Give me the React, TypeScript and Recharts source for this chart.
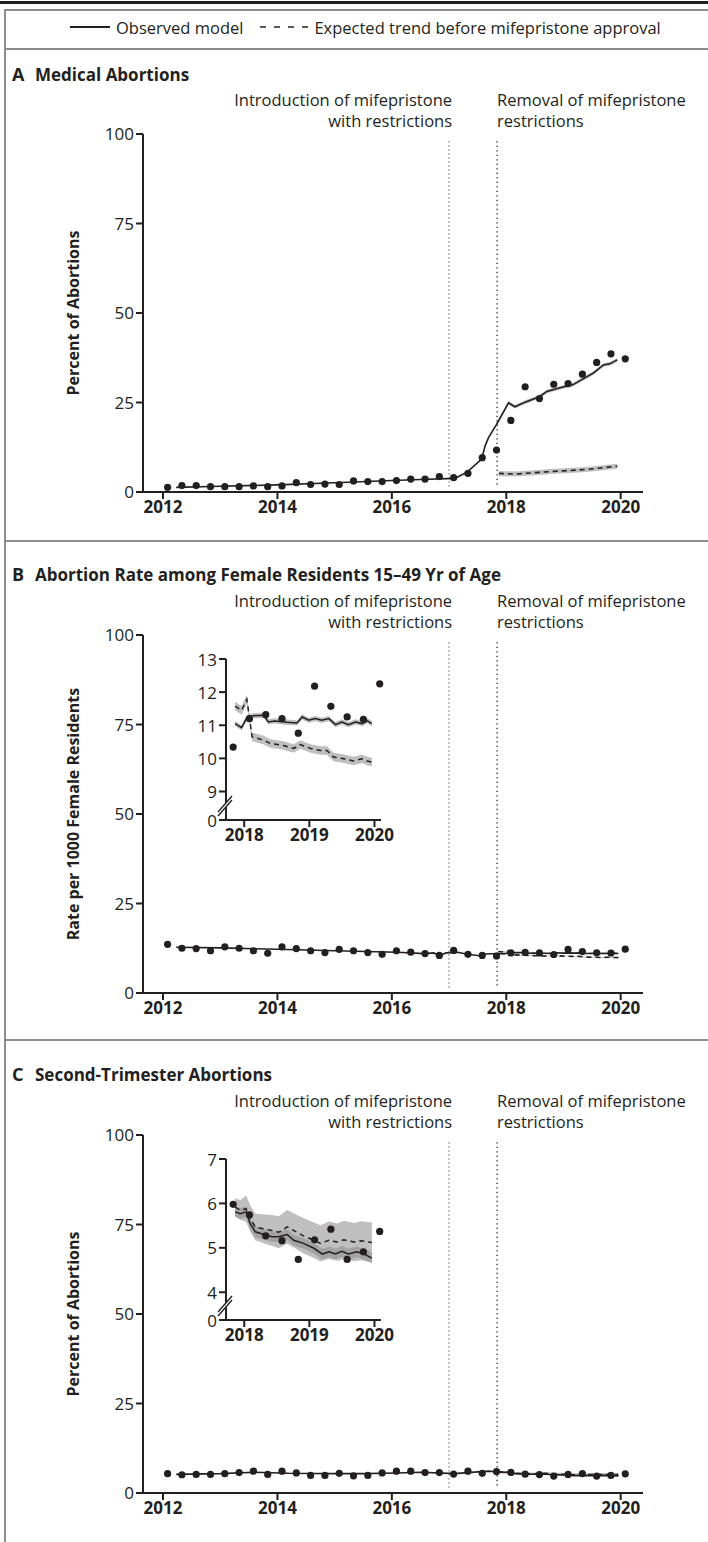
import React from "react";
import {
  ComposedChart,
  Line,
  Area,
  Scatter,
  XAxis,
  YAxis,
  ReferenceLine,
} from "recharts";

const INK = "#231f20";
const FRAME = "#8c8c8c";
const BAND = "#8a8a8a";
const FONT = "'Open Sans', 'Noto Sans', sans-serif";

// quarter midpoints (Feb, May, Aug, Nov) of the observed series
const quarterYears = [
  2012.08, 2012.33, 2012.58, 2012.83, 2013.08, 2013.33, 2013.58, 2013.83,
  2014.08, 2014.33, 2014.58, 2014.83, 2015.08, 2015.33, 2015.58, 2015.83,
  2016.08, 2016.33, 2016.58, 2016.83, 2017.08, 2017.33, 2017.58, 2017.83,
  2018.08, 2018.33, 2018.58, 2018.83, 2019.08, 2019.33, 2019.58, 2019.83,
  2020.08,
];

const yearTicks = [2012, 2014, 2016, 2018, 2020];
const insetYearTicks = [2018, 2019, 2020];
const mainYTicks = [0, 25, 50, 75, 100];
const introYear = 2017.0;
const removalYear = 2017.84;

// A: medical abortions, % of abortions
const medicalPoints = [
  1.3, 1.8, 1.8, 1.5, 1.5, 1.5, 1.7, 1.5, 1.7, 2.6, 2.1, 2.2, 2.1, 3.1, 2.9,
  2.9, 3.2, 3.6, 3.6, 4.3, 4.0, 5.2, 9.6, 11.7, 20.0, 29.4, 26.1, 30.1, 30.3,
  32.9, 36.2, 38.6, 37.2,
];
const medicalObserved: [number, number][] = [
  [2012.23, 1.3], [2013, 1.6], [2014, 2.0], [2015, 2.6], [2016, 3.2],
  [2016.5, 3.5], [2017.1, 3.8], [2017.31, 5.5], [2017.57, 9.2],
  [2017.63, 12.9], [2017.69, 15.2], [2017.83, 18.9], [2018.04, 24.9],
  [2018.15, 23.8], [2018.33, 25.1], [2018.58, 26.6], [2018.71, 28.1],
  [2018.94, 29.1], [2019.17, 30.0], [2019.32, 31.4], [2019.52, 33.2],
  [2019.7, 35.5], [2019.81, 35.8], [2019.94, 36.9],
];
const medicalExpected: [number, number][] = [
  [2017.87, 5.2], [2018.15, 5.0], [2018.5, 5.4], [2018.77, 5.7],
  [2019.1, 6.0], [2019.4, 6.3], [2019.7, 6.8], [2019.94, 7.2],
];
const medicalObservedCI = 0.5;
const medicalExpectedCI = 0.7;

// B: abortion rate per 1000 female residents 15-49 yr
const ratePoints = [
  13.6, 12.5, 12.4, 11.8, 12.9, 12.5, 11.8, 11.1, 12.9, 12.4, 11.8, 11.3,
  12.2, 11.8, 11.3, 10.8, 11.8, 11.4, 11.0, 10.5, 11.9, 10.8, 10.5, 10.34,
  11.2, 11.32, 11.2, 10.76, 12.18, 11.57, 11.25, 11.18, 12.25,
];
const rateObservedEarly: [number, number][] = [
  [2012.23, 12.8], [2013, 12.6], [2014, 12.2], [2015, 11.8], [2016.1, 11.4],
  [2016.57, 11.0], [2016.73, 11.2], [2016.83, 10.5], [2016.95, 11.2],
  [2017.15, 11.4], [2017.3, 10.9], [2017.53, 10.4], [2017.65, 10.9],
];
const rateObservedLate: [number, number][] = [
  [2017.86, 11.05], [2017.96, 10.93], [2018.04, 11.23], [2018.14, 11.29],
  [2018.3, 11.3], [2018.37, 11.1], [2018.47, 11.13], [2018.66, 11.09],
  [2018.81, 11.07], [2018.89, 11.25], [2018.99, 11.15], [2019.09, 11.2],
  [2019.19, 11.15], [2019.3, 11.2], [2019.4, 11.02], [2019.5, 11.1],
  [2019.6, 11.02], [2019.71, 11.1], [2019.81, 11.05], [2019.89, 11.13],
  [2019.96, 11.05],
];
const rateExpected: [number, number][] = [
  [2017.86, 11.58], [2017.96, 11.45], [2018.04, 11.78], [2018.12, 10.65],
  [2018.3, 10.55], [2018.4, 10.45], [2018.6, 10.39], [2018.76, 10.3],
  [2018.86, 10.42], [2019.02, 10.3], [2019.17, 10.24], [2019.27, 10.24],
  [2019.37, 10.04], [2019.53, 9.99], [2019.68, 9.92], [2019.81, 9.99],
  [2019.89, 9.92], [2019.96, 9.89],
];
const rateObservedCI = 0.08;
const rateExpectedCI = 0.13;
const rateInsetFloor = 8.14;
const rateInsetTicks = [rateInsetFloor, 9, 10, 11, 12, 13];

// C: second-trimester abortions, % of abortions
const secondPoints = [
  5.4, 5.1, 5.2, 5.2, 5.4, 5.7, 6.1, 5.2, 6.1, 5.6, 4.9, 4.9, 5.5, 4.8, 4.9,
  5.6, 6.1, 6.1, 5.7, 5.7, 5.3, 6.1, 5.5, 5.98, 5.74, 5.27, 5.16, 4.74, 5.18,
  5.42, 4.74, 4.91, 5.37,
];
const secondObservedEarly: [number, number][] = [
  [2012.23, 5.2], [2013, 5.4], [2013.6, 5.8], [2014.2, 5.5], [2015, 5.4],
  [2015.5, 5.4], [2016.1, 5.6], [2016.5, 5.8], [2017.1, 5.4], [2017.5, 5.9],
  [2017.7, 6.1],
];
const secondObservedLate: [number, number][] = [
  [2017.86, 5.81], [2017.94, 5.77], [2018.03, 5.81], [2018.09, 5.55],
  [2018.17, 5.36], [2018.3, 5.3], [2018.43, 5.25], [2018.53, 5.25],
  [2018.66, 5.3], [2018.76, 5.17], [2018.91, 5.1], [2019.07, 4.99],
  [2019.2, 4.86], [2019.3, 4.91], [2019.4, 4.86], [2019.5, 4.92],
  [2019.6, 4.86], [2019.73, 4.91], [2019.84, 4.86], [2019.96, 4.77],
];
const secondExpected: [number, number][] = [
  [2017.86, 5.92], [2017.94, 5.85], [2018.03, 5.88], [2018.09, 5.66],
  [2018.17, 5.47], [2018.32, 5.42], [2018.43, 5.39], [2018.53, 5.35],
  [2018.66, 5.47], [2018.81, 5.35], [2018.91, 5.27], [2019.07, 5.17],
  [2019.17, 5.1], [2019.3, 5.17], [2019.43, 5.13], [2019.53, 5.18],
  [2019.69, 5.13], [2019.79, 5.16], [2019.96, 5.12],
];
const secondObservedCI = 0.12;
const secondExpectedCI = [
  0.2, 0.22, 0.3, 0.3, 0.3, 0.33, 0.35, 0.36, 0.38, 0.39, 0.4, 0.4, 0.41,
  0.42, 0.42, 0.43, 0.43, 0.44, 0.45,
];
const secondInsetFloor = 3.375;
const secondInsetTicks = [secondInsetFloor, 4, 5, 6, 7];

type Pair = [number, number];

const toRows = (pts: Pair[]) => pts.map(([x, y]) => ({ x, y }));
const toBand = (pts: Pair[], ci: number | number[]) =>
  pts.map(([x, y], i) => {
    const w = Array.isArray(ci) ? ci[i] : ci;
    return { x, range: [y - w, y + w] };
  });
const toPoints = (vals: number[]) =>
  quarterYears.map((x, i) => ({ x, y: vals[i] }));

const Dot = (p: any) =>
  p.cx == null || p.cy == null ? null : (
    <circle cx={p.cx} cy={p.cy} r={3.6} fill={INK} />
  );

const Annotation = (props: any) => {
  const vb = props.viewBox || {};
  const x = vb.x ?? 0;
  const y = vb.y ?? 0;
  const end = props.anchor === "end";
  const tx = end ? x + 3 : x;
  return (
    <g>
      {props.lines.map((t: string, i: number) => (
        <text
          key={t}
          x={tx}
          y={y - 35 + i * 21}
          textAnchor={end ? "end" : "start"}
          fontFamily={FONT}
          fontSize={16.5}
          fill={INK}
        >
          {t}
        </text>
      ))}
    </g>
  );
};

const YTitle = (props: any) => {
  const vb = props.viewBox || {};
  const cx = (vb.x ?? 0) + 10;
  const cy = (vb.y ?? 0) + (vb.height ?? 0) / 2;
  return (
    <text
      x={cx}
      y={cy}
      transform={`rotate(-90 ${cx} ${cy})`}
      textAnchor="middle"
      dominantBaseline="central"
      fontFamily={FONT}
      fontSize={16}
      fontWeight={700}
      fill={INK}
    >
      {props.text}
    </text>
  );
};

const InsetTick = (props: any) => {
  const { x, y, payload, floor } = props;
  const isFloor = payload.value === floor;
  const ax = x + 9;
  return (
    <g>
      <text
        x={x}
        y={y}
        textAnchor="end"
        dominantBaseline="central"
        fontFamily={FONT}
        fontSize={17}
        fill={INK}
      >
        {isFloor ? "0" : payload.value}
      </text>
      {isFloor && (
        <g>
          <polygon
            points={`${ax - 7},${y - 9} ${ax + 6},${y - 23} ${ax + 6},${y - 19} ${ax - 7},${y - 5}`}
            fill="#fff"
          />
          <line x1={ax - 8} y1={y - 8} x2={ax + 6} y2={y - 24} stroke={INK} strokeWidth={1.3} />
          <line x1={ax - 8} y1={y - 4} x2={ax + 6} y2={y - 20} stroke={INK} strokeWidth={1.3} />
        </g>
      )}
    </g>
  );
};

const axisStroke = { stroke: INK, strokeWidth: 2 };
const tickFont = { fontFamily: FONT, fontSize: 17, fill: INK };
const boldTick = { fontFamily: FONT, fontSize: 17, fontWeight: 700, fill: INK };

interface PanelProps {
  top: number;
  yTitle: string;
  points: number[];
  observed: Pair[];
  expected: Pair[];
  observedBand: Pair[];
  observedCI: number;
  expectedCI: number | number[];
}

function MainPanel(p: PanelProps) {
  return (
    <div style={{ position: "absolute", left: 0, top: p.top }}>
      <ComposedChart
        width={708}
        height={438}
        margin={{ top: 45, right: 65, bottom: 5, left: 63 }}
      >
        <XAxis
          type="number"
          dataKey="x"
          domain={[2011.65, 2020.39]}
          ticks={yearTicks}
          tick={boldTick}
          tickSize={7}
          axisLine={axisStroke}
          tickLine={axisStroke}
          height={30}
        />
        <YAxis
          type="number"
          domain={[0, 100]}
          ticks={mainYTicks}
          tick={tickFont}
          tickSize={7}
          axisLine={axisStroke}
          tickLine={axisStroke}
          width={80}
          label={<YTitle text={p.yTitle} />}
        />
        <ReferenceLine
          segment={[{ x: introYear, y: 98 }, { x: introYear, y: 1.5 }]}
          stroke="#6d6d6d"
          strokeDasharray="1.3 2.7"
          strokeWidth={1.3}
          label={<Annotation anchor="end" lines={["Introduction of mifepristone", "with restrictions"]} />}
        />
        <ReferenceLine
          segment={[{ x: removalYear, y: 98 }, { x: removalYear, y: 1.5 }]}
          stroke={INK}
          strokeDasharray="1.3 3.2"
          strokeWidth={1.3}
          label={<Annotation anchor="start" lines={["Removal of mifepristone", "restrictions"]} />}
        />
        <Area
          data={toBand(p.expected, p.expectedCI)}
          dataKey="range"
          type="linear"
          stroke="none"
          fill={BAND}
          fillOpacity={0.55}
          isAnimationActive={false}
        />
        <Area
          data={toBand(p.observedBand, p.observedCI)}
          dataKey="range"
          type="linear"
          stroke="none"
          fill={BAND}
          fillOpacity={0.55}
          isAnimationActive={false}
        />
        <Line
          data={toRows(p.expected)}
          dataKey="y"
          type="linear"
          stroke={INK}
          strokeWidth={1.6}
          strokeDasharray="5 4"
          dot={false}
          isAnimationActive={false}
        />
        <Line
          data={toRows(p.observed)}
          dataKey="y"
          type="linear"
          stroke={INK}
          strokeWidth={1.6}
          dot={false}
          isAnimationActive={false}
        />
        <Scatter
          data={toPoints(p.points)}
          dataKey="y"
          shape={Dot}
          isAnimationActive={false}
        />
      </ComposedChart>
    </div>
  );
}

interface InsetProps {
  top: number;
  floor: number;
  ticks: number[];
  points: number[];
  observed: Pair[];
  expected: Pair[];
  observedCI: number;
  expectedCI: number | number[];
}

function Inset(p: InsetProps) {
  const pts = toPoints(p.points).filter((d) => d.x > 2017.75);
  return (
    <div style={{ position: "absolute", left: 140, top: p.top }}>
      <ComposedChart
        width={275}
        height={207}
        margin={{ top: 12, right: 34, bottom: 4, left: 0 }}
      >
        <XAxis
          type="number"
          dataKey="x"
          domain={[2017.72, 2020.1]}
          ticks={insetYearTicks}
          tick={boldTick}
          tickSize={7}
          axisLine={axisStroke}
          tickLine={axisStroke}
          height={30}
        />
        <YAxis
          type="number"
          domain={[p.floor, p.ticks[p.ticks.length - 1]]}
          ticks={p.ticks}
          tick={<InsetTick floor={p.floor} />}
          tickSize={7}
          axisLine={axisStroke}
          tickLine={axisStroke}
          width={86}
        />
        <Area
          data={toBand(p.expected, p.expectedCI)}
          dataKey="range"
          type="linear"
          stroke="none"
          fill={BAND}
          fillOpacity={0.55}
          isAnimationActive={false}
        />
        <Area
          data={toBand(p.observed, p.observedCI)}
          dataKey="range"
          type="linear"
          stroke="none"
          fill={BAND}
          fillOpacity={0.55}
          isAnimationActive={false}
        />
        <Line
          data={toRows(p.expected)}
          dataKey="y"
          type="linear"
          stroke={INK}
          strokeWidth={1.5}
          strokeDasharray="5 4"
          dot={false}
          isAnimationActive={false}
        />
        <Line
          data={toRows(p.observed)}
          dataKey="y"
          type="linear"
          stroke={INK}
          strokeWidth={1.5}
          dot={false}
          isAnimationActive={false}
        />
        <Scatter data={pts} dataKey="y" shape={Dot} isAnimationActive={false} />
      </ComposedChart>
    </div>
  );
}

const titleStyle = (top: number): React.CSSProperties => ({
  position: "absolute",
  left: 12,
  top,
  fontFamily: FONT,
  fontSize: 17,
  fontWeight: 700,
  color: INK,
  whiteSpace: "nowrap",
});

function PanelTitle({ top, letter, text }: { top: number; letter: string; text: string }) {
  return (
    <div style={titleStyle(top)}>
      <span style={{ fontSize: 18, display: "inline-block", width: 23 }}>{letter}</span>
      {text}
    </div>
  );
}

const hRule = (top: number): React.CSSProperties => ({
  position: "absolute",
  left: 4,
  top,
  width: 704,
  height: 2,
  background: FRAME,
});

export default function App() {
  return (
    <div
      style={{
        position: "absolute",
        left: 0,
        top: 0,
        width: 708,
        height: 1542,
        background: "#fff",
        fontFamily: FONT,
        color: INK,
        overflow: "hidden",
      }}
    >
      <div style={{ position: "absolute", left: 0, top: 1, width: 708, height: 3, background: INK }} />
      <div style={{ position: "absolute", left: 4, top: 9, width: 704, height: 1.5, background: FRAME }} />
      <div style={{ position: "absolute", left: 4, top: 9, width: 1.5, height: 1533, background: FRAME }} />

      {/* legend */}
      <div
        style={{
          position: "absolute",
          left: 70,
          top: 16,
          height: 22,
          display: "flex",
          alignItems: "center",
          fontSize: 16.5,
          whiteSpace: "nowrap",
        }}
      >
        <svg width={40} height={10}>
          <line x1={0} y1={5} x2={40} y2={5} stroke={INK} strokeWidth={2} />
        </svg>
        <span style={{ marginLeft: 6 }}>Observed model</span>
        <svg width={48} height={10} style={{ marginLeft: 17 }}>
          <line x1={0} y1={5} x2={48} y2={5} stroke={INK} strokeWidth={1.6} strokeDasharray="6 8" />
        </svg>
        <span style={{ marginLeft: 6 }}>Expected trend before mifepristone approval</span>
      </div>
      <div style={hRule(48)} />

      <PanelTitle top={62} letter="A" text="Medical Abortions" />
      <MainPanel
        top={89}
        yTitle="Percent of Abortions"
        points={medicalPoints}
        observed={medicalObserved}
        expected={medicalExpected}
        observedBand={medicalObserved.filter(([x]) => x >= 2017.83)}
        observedCI={medicalObservedCI}
        expectedCI={medicalExpectedCI}
      />

      <div style={hRule(540)} />
      <PanelTitle top={562} letter="B" text="Abortion Rate among Female Residents 15–49 Yr of Age" />
      <MainPanel
        top={590}
        yTitle="Rate per 1000 Female Residents"
        points={ratePoints}
        observed={[...rateObservedEarly, ...rateObservedLate]}
        expected={rateExpected}
        observedBand={rateObservedLate}
        observedCI={rateObservedCI}
        expectedCI={rateExpectedCI}
      />
      <Inset
        top={647}
        floor={rateInsetFloor}
        ticks={rateInsetTicks}
        points={ratePoints}
        observed={rateObservedLate}
        expected={rateExpected}
        observedCI={rateObservedCI}
        expectedCI={rateExpectedCI}
      />

      <div style={hRule(1039)} />
      <PanelTitle top={1062} letter="C" text="Second-Trimester Abortions" />
      <MainPanel
        top={1090}
        yTitle="Percent of Abortions"
        points={secondPoints}
        observed={[...secondObservedEarly, ...secondObservedLate]}
        expected={secondExpected}
        observedBand={secondObservedLate}
        observedCI={secondObservedCI}
        expectedCI={secondExpectedCI}
      />
      <Inset
        top={1147}
        floor={secondInsetFloor}
        ticks={secondInsetTicks}
        points={secondPoints}
        observed={secondObservedLate}
        expected={secondExpected}
        observedCI={secondObservedCI}
        expectedCI={secondExpectedCI}
      />
    </div>
  );
}
